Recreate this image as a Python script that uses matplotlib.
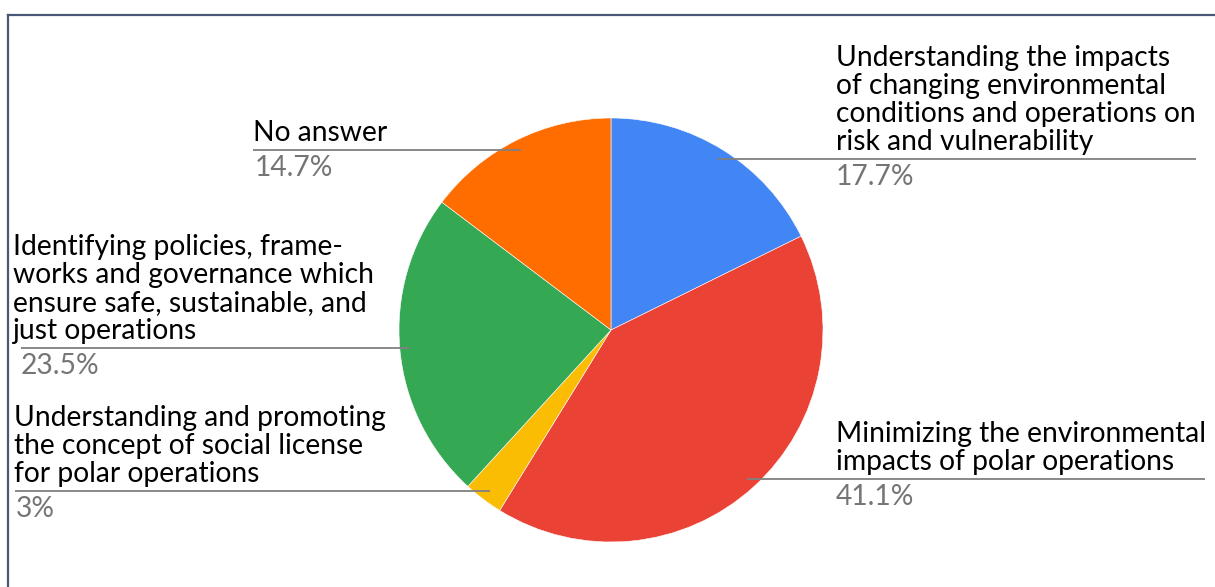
import matplotlib
matplotlib.use("Agg")
import matplotlib.pyplot as plt
import numpy as np

# ---- data ----
categories = [
    "Understanding the impacts\nof changing environmental\nconditions and operations on\nrisk and vulnerability",
    "Minimizing the environmental\nimpacts of polar operations",
    "Understanding and promoting\nthe concept of social license\nfor polar operations",
    "Identifying policies, frame-\nworks and governance which\nensure safe, sustainable, and\njust operations",
    "No answer",
]
shares = [17.7, 41.1, 3.0, 23.5, 14.7]
colors = ["#4285F4", "#EA4335", "#FBBC04", "#34A853", "#FF6D01"]

# ---- layout (pixels) ----
W, H = 1215, 587
FONT = "Lato"
FS = 20.3
PITCH = 28
text_x = [836, 836, 14, 13, 253]
pct_x = [836, 836, 16, 21, 255]
outer_x = [1196, 1205, 15, 21, 253]

fig = plt.figure(figsize=(W / 100, H / 100), dpi=100)
ax = fig.add_axes([0, 0, 1, 1])
cx, cy, R = 611, H - 330, 212
wedges, _ = ax.pie(shares, colors=colors, startangle=90, counterclock=False,
                   center=(cx, cy), radius=R,
                   wedgeprops=dict(edgecolor="white", linewidth=0.4))
ax.set_xlim(0, W)
ax.set_ylim(0, H)
ax.set_aspect("equal")
ax.axis("off")

for w, cat, v, tx, px, ox in zip(wedges, categories, shares, text_x, pct_x, outer_x):
    mid = np.deg2rad((w.theta1 + w.theta2) / 2)
    ix = cx + 0.95 * R * np.cos(mid)
    iy = cy + 0.95 * R * np.sin(mid)
    ax.plot([ix, ox], [iy, iy], color="#808080", lw=1.3, solid_capstyle="butt", zorder=5)
    lines = cat.split("\n")
    n = len(lines)
    for k, ln in enumerate(lines):
        by = iy + 9 + (n - 1 - k) * PITCH
        ax.text(tx, by, ln, fontsize=FS, family=FONT, color="#000000",
                ha="left", va="baseline")
    ax.text(px, iy - 26, f"{v:g}%", fontsize=FS, family=FONT, color="#757575",
            ha="left", va="baseline")

# frame (top and left edges)
ax.plot([8, W], [H - 15, H - 15], color="#4a5878", lw=1.6, clip_on=False)
ax.plot([8, 8], [0, H - 15], color="#4a5878", lw=1.6, clip_on=False)

fig.savefig("out.png", dpi=100)
